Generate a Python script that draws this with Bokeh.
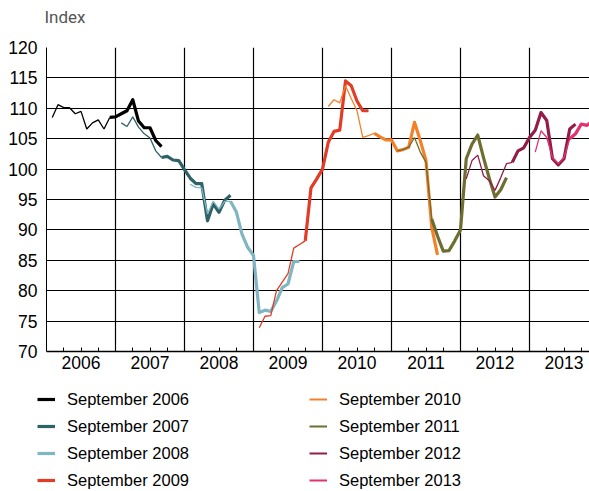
from bokeh.plotting import figure
from bokeh.layouts import column, row
from bokeh.models import FixedTicker, Legend, LegendItem, Range1d, Title
from bokeh.embed import file_html
from bokeh.resources import INLINE

# ---------------- data ----------------
# x = month index, 0 = start of January 2006 (12 months per year)
year_labels = ["2006", "2007", "2008", "2009", "2010", "2011", "2012", "2013"]
y_ticks = [70, 75, 80, 85, 90, 95, 100, 105, 110, 115, 120]

names = ["September 2006", "September 2007", "September 2008", "September 2009",
         "September 2010", "September 2011", "September 2012", "September 2013"]
colors = ["#000000", "#2e6266", "#7fb6c1", "#e23b26",
          "#f4812a", "#6d6e30", "#931d48", "#e0336f"]

start_month = [1, 13, 25, 37, 49, 61, 73, 85]
thick_from = [10, 7, 7, 8, 8, 6, 8, 6]   # index where the bold part begins

sep2006 = [108.5, 110.6, 110.1, 110.1, 109.1, 109.5, 106.6, 107.6, 108.1, 106.6,
           108.5, 108.6, 109.1, 109.6, 111.4, 107.9, 106.8, 106.8, 104.7, 103.7]
sep2007 = [107.6, 107.0, 108.6, 106.9, 105.8, 105.1, 103.0, 101.9, 102.1, 101.5,
           101.4, 99.9, 98.5, 97.6, 97.6, 91.5, 94.3, 92.9, 94.9, 95.7]
sep2008 = [97.5, 97.0, 96.9, 92.6, 94.7, 93.4, 94.7, 94.7, 93.0, 89.3,
           87.1, 85.8, 76.4, 76.8, 76.6, 78.3, 80.5, 81.1, 84.8, 84.8]
sep2009 = [73.9, 75.8, 75.9, 80.0, 81.4, 82.8, 87.0, 87.6, 88.2, 96.9,
           98.4, 100.0, 104.4, 106.2, 106.4, 114.5, 113.7, 111.2, 109.6, 109.6]
sep2010 = [110.3, 111.4, 110.9, 113.7, 111.6, 109.6, 105.2, 105.5, 105.9, 105.3,
           104.8, 104.8, 103.0, 103.2, 103.6, 107.7, 104.7, 101.4, 90.4, 85.9]
sep2011 = [103.0, 103.2, 103.6, 105.2, 102.8, 101.1, 91.8, 89.0, 86.5, 86.6,
           88.2, 90.0, 101.7, 104.1, 105.6, 101.9, 98.5, 95.4, 96.6, 98.6]
sep2012 = [98.4, 101.4, 102.3, 98.9, 98.1, 96.5, 98.6, 100.9, 101.1, 103.0,
           103.5, 105.2, 106.4, 109.3, 108.0, 101.7, 100.7, 101.7, 106.6, 107.4]
sep2013 = [102.8, 106.3, 105.2, 101.9, 100.9, 101.9, 105.0, 105.8, 107.4, 107.2, 107.9]

series = [sep2006, sep2007, sep2008, sep2009, sep2010, sep2011, sep2012, sep2013]

# ---------------- layout sizes ----------------
W = 589
LEFT = 46
HEAD_H = 36          # strip holding the "Index" caption
FRAME_TOP = 47       # page y of the 120 gridline
FRAME_H = 304
MAIN_H = 378 - HEAD_H
LEG_H = 491 - 378
PX_PER_MONTH = 5.75

# ---------------- caption strip ----------------
t = figure(width=W, height=HEAD_H, x_range=Range1d(0, 1), y_range=Range1d(0, 1),
           min_border=0, min_border_left=LEFT, min_border_right=0,
           min_border_top=0, min_border_bottom=0,
           x_axis_type=None, y_axis_type=None,
           output_backend="svg", toolbar_location=None,
           title=Title(text="Index", align="left", offset=-2, standoff=12,
                       vertical_align="top",
                       text_font="Roboto", text_font_size="17px",
                       text_font_style="normal", text_color="#555555"))
t.outline_line_color = None
t.xgrid.visible = False
t.ygrid.visible = False

# ---------------- main figure ----------------
p = figure(width=W, height=MAIN_H,
           x_range=Range1d(0, (W - LEFT) / PX_PER_MONTH), y_range=Range1d(70, 120),
           min_border_left=LEFT, min_border_right=0, min_border_top=FRAME_TOP - HEAD_H,
           min_border_bottom=MAIN_H - (FRAME_TOP - HEAD_H) - FRAME_H,
           output_backend="svg", toolbar_location=None, title=None)
p.outline_line_color = None
p.background_fill_color = "white"

# axes
p.yaxis.ticker = FixedTicker(ticks=y_ticks)
p.yaxis.major_tick_in = 0
p.yaxis.major_tick_out = 0
p.yaxis.minor_tick_line_color = None
p.yaxis.major_label_standoff = 9
p.yaxis.major_label_text_font = "Liberation Sans"
p.yaxis.major_label_text_font_size = "17.5px"
p.yaxis.major_label_text_color = "black"
p.yaxis.axis_line_color = "black"

centers = [6 + 12 * i for i in range(len(year_labels))]
quarters = [12 * i + q for i in range(len(year_labels)) for q in (3, 6, 9)]
p.xaxis.ticker = FixedTicker(ticks=centers, minor_ticks=quarters)
p.xaxis.major_label_overrides = {c: lab for c, lab in zip(centers, year_labels)}
p.xaxis.major_tick_in = 0
p.xaxis.major_tick_out = 0
p.xaxis.minor_tick_in = 4
p.xaxis.minor_tick_out = 0
p.xaxis.minor_tick_line_color = "black"
p.xaxis.major_label_standoff = 4
p.xaxis.major_label_text_font = "Liberation Sans"
p.xaxis.major_label_text_font_size = "17.5px"
p.xaxis.major_label_text_color = "black"
p.xaxis.axis_line_color = "black"
p.xaxis.axis_line_width = 1.3

# grids
p.xgrid.ticker = FixedTicker(ticks=[12 * i for i in range(1, len(year_labels))])
p.xgrid.grid_line_color = "black"
p.xgrid.grid_line_width = 1.2
p.ygrid.grid_line_color = "black"
p.ygrid.grid_line_width = 1.2

# series
for vals, start, tf, col in zip(series, start_month, thick_from, colors):
    xs = list(range(start, start + len(vals)))
    p.line(xs[:tf + 1], vals[:tf + 1], line_color=col, line_width=1.3)
    p.line(xs[tf:], vals[tf:], line_color=col, line_width=3.2, line_join="round")

# ---------------- legend figure ----------------
q = figure(width=W, height=LEG_H, x_range=Range1d(0, 1), y_range=Range1d(0, 1),
           min_border=0, min_border_left=0, min_border_right=0,
           min_border_top=0, min_border_bottom=0,
           x_axis_type=None, y_axis_type=None,
           output_backend="svg", toolbar_location=None, title=None)
q.outline_line_color = None
q.xgrid.visible = False
q.ygrid.visible = False

items = []
for i, (nm, col) in enumerate(zip(names, colors)):
    # legend sample renderers: their data lie outside the (empty) legend panel
    r = q.line(x=[5, 6], y=[5, 5], line_color=col, line_width=3.2 if i < 4 else 2)
    items.append(LegendItem(label=nm, renderers=[r]))
legend = Legend(items=items, orientation="vertical", nrows=4,
                location=(37, 1), glyph_width=18, glyph_height=20,
                label_standoff=12, label_width=235, label_height=20, spacing=7,
                padding=0, margin=0, border_line_color=None, background_fill_alpha=0,
                label_text_font="Liberation Sans", label_text_font_size="16.5px",
                label_text_color="black", label_text_baseline="middle")
q.add_layout(legend)

open("out.html", "w").write(file_html(column(t, p, row(q), spacing=0), INLINE))
